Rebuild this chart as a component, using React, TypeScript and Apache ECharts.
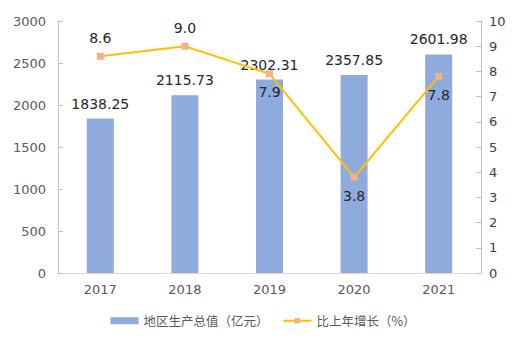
import React, { useEffect, useRef } from "react";
import * as echarts from "echarts";

const years = ["2017", "2018", "2019", "2020", "2021"];
const gdp = [1838.25, 2115.73, 2302.31, 2357.85, 2601.98];
const growth = [8.6, 9.0, 7.9, 3.8, 7.8];
const growthLabelPos = ["top", "top", "bottom", "bottom", "bottom"];

export default function App() {
  const ref = useRef<HTMLDivElement>(null);
  useEffect(() => {
    const chart = echarts.init(ref.current!, null, { renderer: "svg" });
    const font = "DejaVu Sans";
    chart.setOption({
      animation: false,
      textStyle: { fontFamily: font },
      grid: { left: 58, right: 45, top: 21, bottom: 79, containLabel: false },
      legend: {
        bottom: 20,
        left: "center",
        itemGap: 14,
        itemWidth: 28,
        itemHeight: 7,
        textStyle: { fontFamily: "Noto Sans CJK SC", fontSize: 12.5, color: "#595959" },
        data: [
          { name: "地区生产总值（亿元）", icon: "rect" },
          { name: "比上年增长（%）" },
        ],
      },
      xAxis: {
        type: "category",
        data: years,
        axisLine: { lineStyle: { color: "#d9d9d9" } },
        axisTick: { show: false },
        axisLabel: { color: "#595959", fontSize: 13, margin: 10, fontFamily: font },
      },
      yAxis: [
        {
          type: "value",
          min: 0,
          max: 3000,
          interval: 500,
          axisLine: { show: true, lineStyle: { color: "#bfbfbf" } },
          axisTick: { show: true, inside: true, length: 5, lineStyle: { color: "#bfbfbf" } },
          splitLine: { show: false },
          axisLabel: {
            color: "#595959",
            fontSize: 13,
            margin: 12,
            fontFamily: font,
            formatter: (v: number) => String(v),
          },
        },
        {
          type: "value",
          min: 0,
          max: 10,
          interval: 1,
          axisLine: { show: true, lineStyle: { color: "#bfbfbf" } },
          axisTick: { show: true, inside: true, length: 5, lineStyle: { color: "#bfbfbf" } },
          splitLine: { show: false },
          axisLabel: {
            color: "#404040",
            fontSize: 13,
            margin: 8,
            fontFamily: font,
            formatter: (v: number) => String(v),
          },
        },
      ],
      series: [
        {
          name: "地区生产总值（亿元）",
          type: "bar",
          data: gdp,
          barWidth: 27,
          itemStyle: { color: "#8faadc" },
          label: {
            show: true,
            position: "top",
            distance: 8,
            color: "#262626",
            fontSize: 14,
            fontFamily: font,
            formatter: (p: any) => p.value.toFixed(2),
          },
        },
        {
          name: "比上年增长（%）",
          type: "line",
          yAxisIndex: 1,
          data: growth.map((v, i) => ({
            value: v,
            label: { position: growthLabelPos[i] },
          })),
          symbol: "rect",
          symbolSize: 7,
          lineStyle: { color: "#ffc000", width: 2 },
          itemStyle: { color: "#f4b183" },
          label: {
            show: true,
            distance: 8,
            color: "#262626",
            fontSize: 14,
            fontFamily: font,
            formatter: (p: any) => p.value.toFixed(1),
          },
        },
      ],
    });
    return () => chart.dispose();
  }, []);
  return <div ref={ref} style={{ width: 526, height: 352, margin: -8 }} />;
}
